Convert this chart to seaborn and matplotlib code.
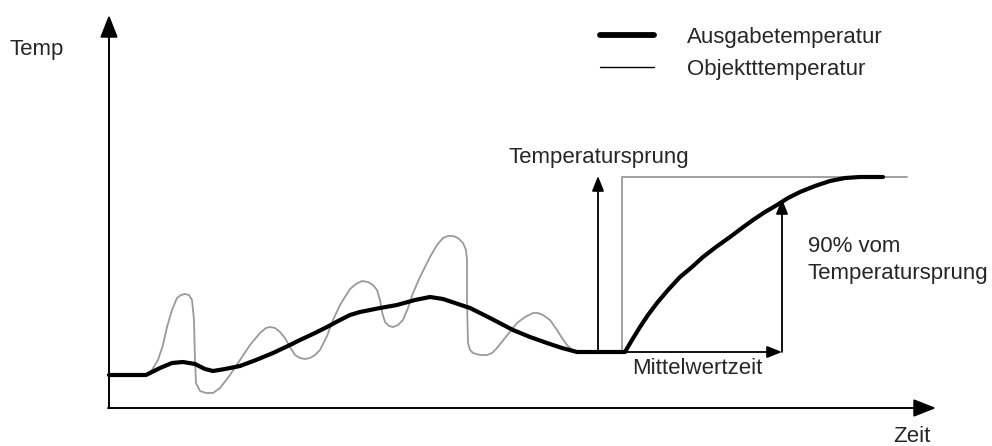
import matplotlib
matplotlib.use("Agg")
import matplotlib.pyplot as plt
import seaborn as sns
import pandas as pd

# ---- data (time in px-like units, temp = 446 - pixel row) ----
out_time = [109, 146, 160, 172, 183, 195, 205, 213, 225, 240, 256, 273, 290, 300, 315, 327, 340, 350,
            360, 380, 397, 415, 430, 443, 455, 470, 490, 513, 530, 547, 562, 577, 600, 625, 632, 640,
            648, 657, 668, 680, 692, 703, 716, 730, 742, 753, 765, 777, 788, 800, 815, 830, 845, 860, 883]
out_row = [375, 375, 368, 363, 362, 364, 369, 371, 369, 366, 360, 353, 345, 340, 333, 327, 320, 315,
           312, 308, 305, 300, 297, 299, 303, 308, 318, 330, 337, 343, 348, 352, 352, 352, 340, 327,
           315, 303, 290, 277, 267, 257, 247, 237, 228, 220, 212, 205, 198, 192, 186, 181, 178, 177, 177]

obj_time = [146, 152, 158, 163, 167, 172, 177, 181, 185, 189, 192, 194, 195, 196, 200, 206, 213, 220,
            230, 240, 250, 260, 266, 270, 275, 280, 285, 290, 295, 300, 305, 310, 315, 320, 327, 333,
            340, 350, 356, 362, 368, 373, 377, 380, 382, 385, 389, 393, 398, 403, 408, 413, 420, 430,
            437, 443, 448, 453, 458, 463, 466, 467, 467, 468, 470, 473, 480, 487, 492, 497, 505, 517,
            525, 533, 538, 543, 550, 557, 562, 567, 572, 577, 600, 622, 622, 650, 907]
obj_row = [375, 370, 360, 345, 327, 310, 298, 295, 294, 295, 300, 320, 360, 383, 391, 393, 393, 388,
           375, 360, 345, 333, 328, 327, 328, 332, 338, 347, 355, 358, 359, 358, 355, 350, 336, 320,
           305, 289, 284, 281, 282, 285, 290, 300, 312, 322, 326, 327, 325, 320, 308, 293, 277, 257,
           245, 238, 236, 236, 238, 243, 250, 260, 300, 343, 350, 353, 355, 355, 353, 348, 338, 323,
           317, 313, 313, 315, 320, 330, 338, 345, 350, 352, 352, 352, 177, 177, 177]

series_names = ["Ausgabetemperatur", "Objektttemperatur"]
axis_labels = ["Temp", "Zeit"]
step_label = "Temperatursprung"
avg_label = "Mittelwertzeit"
pct_label = "90% vom\nTemperatursprung"

# key points of annotations (time, row)
base_row = 352
step_time = 598
step_top_row = 176
avg_end_time = 782
pct_top_row = 199

H = 446
out_temp = [H - r for r in out_row]
obj_temp = [H - r for r in obj_row]

df_out = pd.DataFrame({"Zeit": out_time, "Temp": out_temp})
df_obj = pd.DataFrame({"Zeit": obj_time, "Temp": obj_temp})

sns.set_style("white")
plt.rcParams["font.family"] = ["Liberation Sans", "DejaVu Sans"]

fig = plt.figure(figsize=(9.92, 4.46), dpi=100)
ax = fig.add_axes([0, 0, 1, 1])
ax.set_xlim(0, 992)
ax.set_ylim(0, 446)
ax.axis("off")

sns.lineplot(data=df_obj, x="Zeit", y="Temp", ax=ax, color="#9a9a9a", linewidth=1.3,
             sort=False, estimator=None, label=series_names[1], zorder=2)
sns.lineplot(data=df_out, x="Zeit", y="Temp", ax=ax, color="black", linewidth=3.0,
             sort=False, estimator=None, label=series_names[0], zorder=3)

FS = 16
big_arrow = dict(arrowstyle="-|>,head_length=0.86,head_width=0.34", color="black", lw=1.4,
                 mutation_scale=16, shrinkA=0, shrinkB=0)
small_arrow = dict(arrowstyle="-|>,head_length=0.9,head_width=0.36", color="black", lw=1.3,
                   mutation_scale=10, shrinkA=0, shrinkB=0)

# axes arrows
ax.annotate("", xy=(109, H - 15), xytext=(109, H - 408), arrowprops=big_arrow)
ax.annotate("", xy=(936, H - 408), xytext=(108, H - 408), arrowprops=big_arrow)

# step arrow
ax.annotate("", xy=(step_time, H - step_top_row), xytext=(step_time, H - base_row),
            arrowprops=small_arrow, zorder=4)
# averaging time arrow
ax.annotate("", xy=(avg_end_time, H - base_row), xytext=(624, H - base_row),
            arrowprops=small_arrow, zorder=4)
# 90% arrow
ax.annotate("", xy=(avg_end_time, H - pct_top_row), xytext=(avg_end_time, H - base_row),
            arrowprops=small_arrow, zorder=4)

ax.text(10, H - 50, axis_labels[0], fontsize=FS, ha="left", va="center")
ax.text(912, H - 436, axis_labels[1], fontsize=FS, ha="center", va="center")
ax.text(599, H - 158, step_label, fontsize=FS, ha="center", va="center")
ax.text(697, H - 369, avg_label, fontsize=FS, ha="center", va="center")
ax.text(808, H - 260, pct_label, fontsize=FS, ha="left", va="center", linespacing=1.35)

handles, labels = ax.get_legend_handles_labels()
order = [labels.index(series_names[0]), labels.index(series_names[1])]
leg = ax.legend([handles[i] for i in order], [labels[i] for i in order],
                loc="upper left", bbox_to_anchor=(600 / 992, 1 - 27 / 446), frameon=False,
                fontsize=FS, handlelength=2.45, handletextpad=1.45, labelspacing=0.5,
                borderpad=0, borderaxespad=0)
leg.get_lines()[0].set_linewidth(4.2)
leg.get_lines()[1].set_color("black")
leg.get_lines()[1].set_linewidth(1.0)

fig.savefig("out.png", dpi=100)
